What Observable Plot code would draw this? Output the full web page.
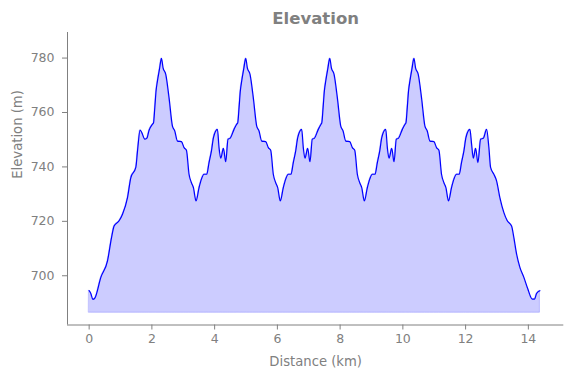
<!DOCTYPE html>
<html>
<head>
<meta charset="utf-8">
<script src="https://cdn.jsdelivr.net/npm/d3@7"></script>
<script src="https://cdn.jsdelivr.net/npm/@observablehq/plot@0.6"></script>
<style>
  html, body { margin: 0; padding: 0; background: #fff; }
  #chart { width: 571px; height: 378px; }
</style>
</head>
<body>
<div id="chart"></div>
<script>
const titleText = "Elevation";
const xLabel = "Distance (km)";
const yLabel = "Elevation (m)";
const xTicks = [0, 2, 4, 6, 8, 10, 12, 14];
const yTicks = [700, 720, 740, 760, 780];
const baseline = 686.4;
const xDomain = [-0.69, 15.13];
const yDomain = [681.9, 789.4];

const distance = [
  0, 0.054, 0.118, 0.182, 0.373, 0.586, 0.714, 0.796, 0.956, 1.064, 1.223, 1.328, 1.488, 1.542, 1.625, 1.679, 1.774, 1.838, 1.911, 2.020,
  2.052, 2.093, 2.134, 2.179, 2.243, 2.306,
  2.357, 2.443, 2.548, 2.656, 2.730, 2.816, 2.943, 3.026, 3.102, 3.185, 3.262, 3.325, 3.408, 3.504, 3.580, 3.663, 3.749, 3.822, 3.899, 3.963,
  4.090, 4.141, 4.195, 4.281, 4.354, 4.428, 4.491, 4.619, 4.705, 4.737, 4.779, 4.820, 4.865, 4.928, 4.992,
  5.043, 5.129, 5.234, 5.342, 5.416, 5.502, 5.629, 5.712, 5.788, 5.871, 5.948, 6.011, 6.094, 6.190, 6.266, 6.349, 6.435, 6.508, 6.585, 6.649,
  6.776, 6.827, 6.881, 6.967, 7.040, 7.114, 7.177, 7.305, 7.391, 7.416, 7.458, 7.499, 7.544, 7.607, 7.671,
  7.722, 7.808, 7.913, 8.021, 8.095, 8.181, 8.308, 8.391, 8.467, 8.550, 8.627, 8.690, 8.773, 8.869, 8.945, 9.028, 9.114, 9.187, 9.264, 9.328,
  9.455, 9.506, 9.560, 9.646, 9.719, 9.793, 9.856, 9.984, 10.070, 10.099, 10.141, 10.182, 10.227, 10.290, 10.354,
  10.405, 10.491, 10.596, 10.704, 10.778, 10.864, 10.991, 11.074, 11.150, 11.233, 11.310, 11.373, 11.456, 11.552, 11.628, 11.711, 11.797, 11.870, 11.947, 12.011,
  12.138, 12.192, 12.246, 12.320, 12.393, 12.479, 12.565, 12.670, 12.743, 12.797, 12.902, 12.988, 13.093, 13.221, 13.329, 13.466, 13.539, 13.625, 13.731, 13.858,
  13.985, 14.126, 14.199, 14.263, 14.368
];

const elevation = [
  694.5, 693.5, 691.3, 691.8, 699.4, 705.5, 714.0, 718.3, 720.2, 722.6, 728.7, 736.0, 739.8, 745.9, 753.5, 752.6, 750.2, 750.5, 753.5, 755.7,
  756.2, 761.8, 768.0, 771.7, 776.0, 779.9,
  776.4, 774.0, 765.4, 755.0, 753.2, 749.5, 749.3, 747.1, 746.1, 737.3, 734.2, 732.4, 727.5, 732.4, 735.5, 737.3, 737.3, 741.6, 745.9, 750.8,
  753.8, 747.1, 743.2, 746.8, 741.9, 750.2, 750.5, 753.8, 755.7, 756.2, 761.8, 768.0, 771.7, 776.0, 779.9,
  776.4, 774.0, 765.4, 755.0, 753.2, 749.5, 749.3, 747.1, 746.1, 737.3, 734.2, 732.4, 727.5, 732.4, 735.5, 737.3, 737.3, 741.6, 745.9, 750.8,
  753.8, 747.1, 743.2, 746.8, 741.9, 750.2, 750.5, 753.8, 755.7, 756.2, 761.8, 768.0, 771.7, 776.0, 779.9,
  776.4, 774.0, 765.4, 755.0, 753.2, 749.5, 749.3, 747.1, 746.1, 737.3, 734.2, 732.4, 727.5, 732.4, 735.5, 737.3, 737.3, 741.6, 745.9, 750.8,
  753.8, 747.1, 743.2, 746.8, 741.9, 750.2, 750.5, 753.8, 755.7, 756.2, 761.8, 768.0, 771.7, 776.0, 779.9,
  776.4, 774.0, 765.4, 755.0, 753.2, 749.5, 749.3, 747.1, 746.1, 737.3, 734.2, 732.4, 727.5, 732.4, 735.5, 737.3, 737.3, 741.6, 745.9, 750.8,
  753.8, 748.3, 743.2, 746.8, 741.6, 750.2, 750.5, 753.8, 747.1, 739.8, 737.3, 734.9, 728.7, 723.2, 720.2, 718.3, 714.0, 708.0, 703.1, 699.4,
  695.1, 691.4, 691.4, 693.5, 694.5
];

const data = distance.map((d, i) => ({distance: d, elevation: elevation[i]}));

const gray = "#808080";
const font = "DejaVu Sans, sans-serif";

const chart = Plot.plot({
  width: 571,
  height: 378,
  marginTop: 32,
  marginBottom: 53.5,
  marginLeft: 67,
  marginRight: 7.7,
  style: {fontFamily: font, background: "white", overflow: "visible"},
  x: {domain: xDomain},
  y: {domain: yDomain},
  marks: [
    Plot.areaY(data, {x: "distance", y1: baseline, y2: "elevation", curve: "monotone-x", fill: "blue", fillOpacity: 0.2, stroke: "blue", strokeOpacity: 0.2, strokeWidth: 1}),
    Plot.lineY(data, {x: "distance", y: "elevation", curve: "monotone-x", stroke: "blue", strokeWidth: 1.2}),
    Plot.ruleX([xDomain[0]], {stroke: gray, strokeWidth: 1}),
    Plot.ruleY([yDomain[0]], {stroke: gray, strokeWidth: 1}),
    Plot.axisX({ticks: xTicks, tickSize: 5, tickPadding: 4, fontSize: 12.5, color: gray, stroke: gray, label: null, tickFormat: d3.format("d")}),
    Plot.axisY({ticks: yTicks, tickSize: 5, tickPadding: 8, fontSize: 12.5, color: gray, stroke: gray, label: null, tickFormat: d3.format("d")}),
    Plot.text([xLabel], {frameAnchor: "bottom", dy: 36.5, lineAnchor: "middle", fontSize: 13.2, fill: gray, text: d => d}),
    Plot.text([yLabel], {frameAnchor: "left", dx: -50, rotate: -90, lineAnchor: "middle", fontSize: 13.2, fill: gray, text: d => d}),
    Plot.text([titleText], {frameAnchor: "top", dy: -14, lineAnchor: "middle", fontSize: 16.5, fontWeight: "bold", fill: gray, text: d => d})
  ]
});
document.getElementById("chart").appendChild(chart);
</script>
</body>
</html>
